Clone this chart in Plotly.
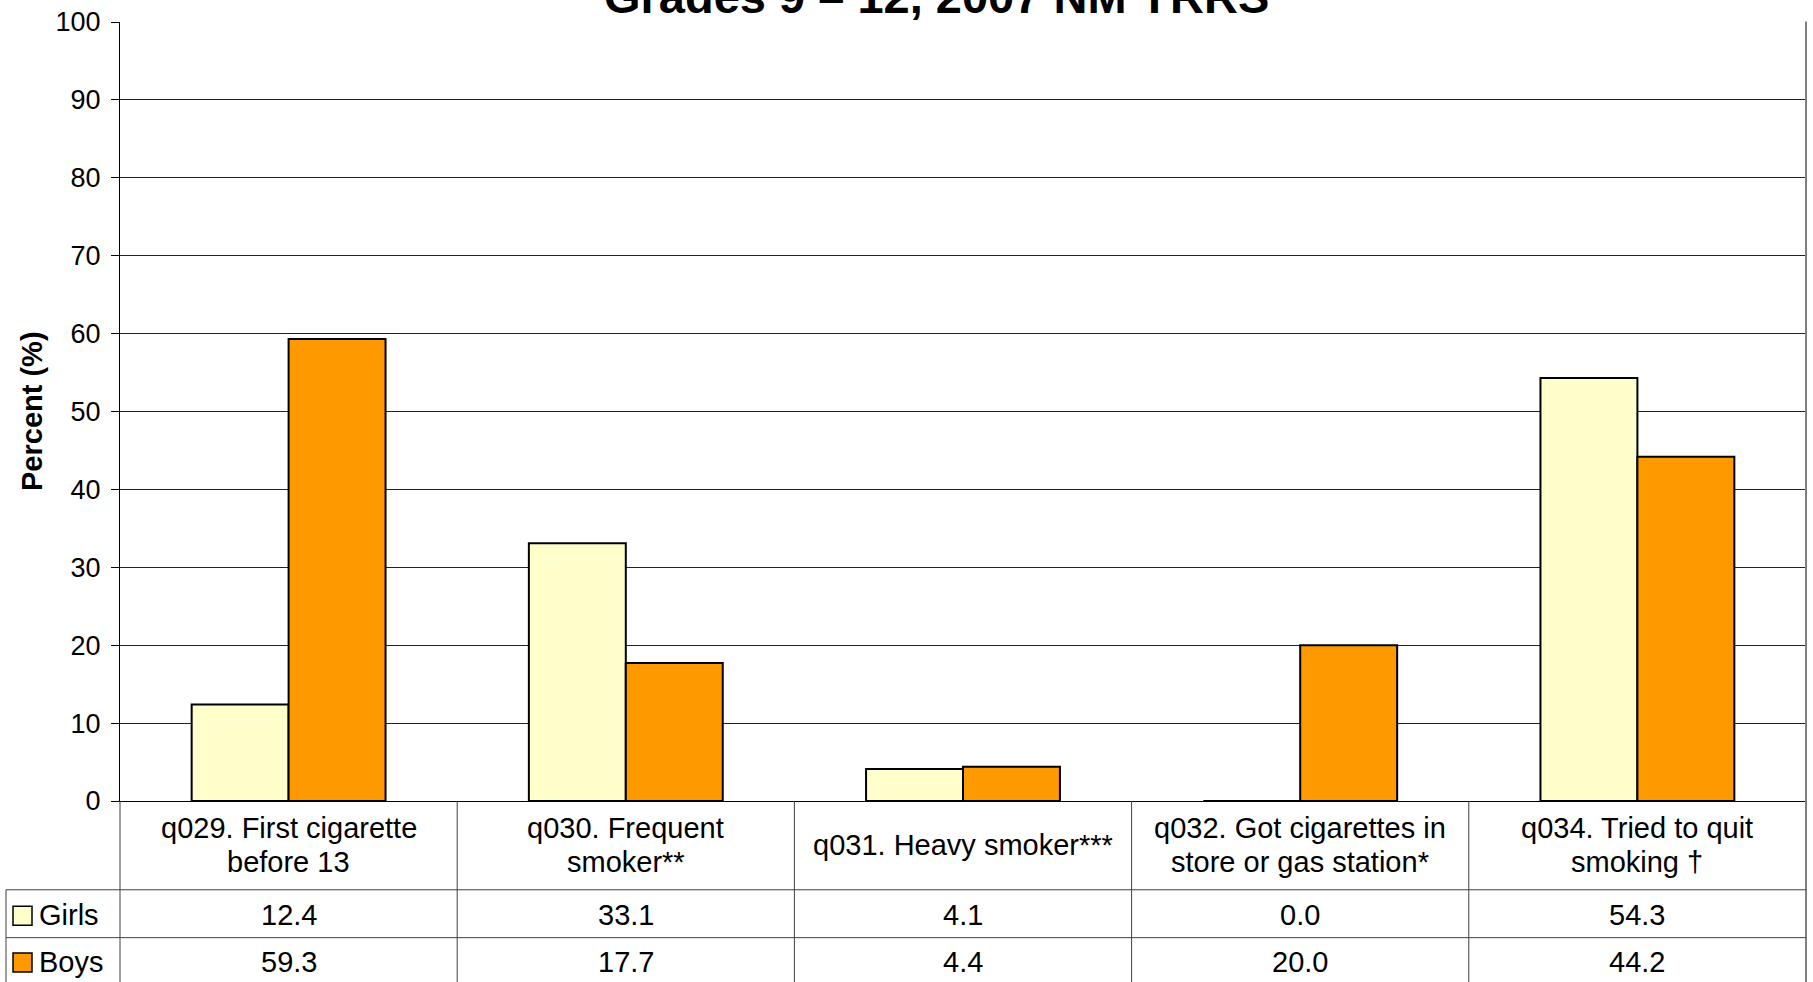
import plotly.graph_objects as go

categories = [
    "q029. First cigarette<br>before 13",
    "q030. Frequent<br>smoker**",
    "q031. Heavy smoker***",
    "q032. Got cigarettes in<br>store or gas station*",
    "q034. Tried to quit<br>smoking \u2020",
]
series_names = ["Girls", "Boys"]
girls = [12.4, 33.1, 4.1, 0.0, 54.3]
boys = [59.3, 17.7, 4.4, 20.0, 44.2]
colors = ["#FFFFCC", "#FF9900"]
title_text = "Grades 9 \u2013 12, 2007 NM YRRS"
y_title = "Percent (%)"

W, H = 1813, 982
L, R, T, B = 120, 1806, 20, 801  # plot area in pixels
FONT = "Liberation Sans, Arial, sans-serif"
TS = 29  # table font size


def px(x):
    return (x - L) / (R - L)


def py(y):
    return (B - y) / (B - T)


xs = list(range(len(categories)))
fig = go.Figure()
for name, vals, col in zip(series_names, [girls, boys], colors):
    fig.add_trace(go.Bar(
        x=xs, y=vals, name=name,
        marker=dict(color=col, line=dict(color="black", width=2)),
        showlegend=False,
    ))

fig.update_layout(
    width=W, height=H,
    margin=dict(l=L, r=W - R, t=T, b=H - B, pad=0),
    paper_bgcolor="white", plot_bgcolor="white",
    barmode="group", bargap=0.425, bargroupgap=0,
    font=dict(family=FONT, color="black", size=24),
    xaxis=dict(range=[-0.5, len(categories) - 0.5], showticklabels=False,
               showgrid=False, zeroline=False, showline=True,
               linecolor="black", linewidth=1, ticks=""),
    yaxis=dict(range=[0, 100], dtick=10, showgrid=True, gridcolor="#222222",
               gridwidth=1, zeroline=False, showline=True, linecolor="black",
               linewidth=1, ticks="outside", ticklen=8, tickcolor="black",
               tickfont=dict(size=27, family=FONT), ticklabelstandoff=5),
)

# right border (gray)
shapes = [dict(type="line", xref="paper", yref="paper", x0=px(1806), x1=px(1806),
               y0=py(19.5), y1=py(990), line=dict(color="#808080", width=2))]
# table lines
tl = dict(color="#404040", width=1)
for yy in [890, 938]:
    shapes.append(dict(type="line", xref="paper", yref="paper", x0=px(6), x1=px(1806),
                       y0=py(yy), y1=py(yy), line=tl))
shapes.append(dict(type="line", xref="paper", yref="paper", x0=px(6), x1=px(6),
                   y0=py(890), y1=py(990), line=tl))
shapes.append(dict(type="line", xref="paper", yref="paper", x0=0, x1=0,
                   y0=0, y1=py(990), line=tl))
for i in range(len(categories) - 1):
    shapes.append(dict(type="line", xref="x", yref="paper", x0=i + 0.5, x1=i + 0.5,
                       y0=0, y1=py(990), line=tl))
# legend keys
for yc, col in zip([916, 963], colors):
    shapes.append(dict(type="rect", xref="paper", yref="paper",
                       x0=px(13), x1=px(32), y0=py(yc - 9.5), y1=py(yc + 9.5),
                       fillcolor=col, line=dict(color="black", width=1.5)))
fig.update_layout(shapes=shapes)

ann = []
for i, c in enumerate(categories):
    lines = c.split("<br>")
    if len(lines) == 1:
        ys = [845]
    else:
        ys = [828, 862]
    for ln, yy in zip(lines, ys):
        ann.append(dict(x=i, y=py(yy), xref="x", yref="paper", text=ln, showarrow=False,
                        font=dict(size=TS, family=FONT), align="center",
                        xanchor="center", yanchor="middle"))
    ann.append(dict(x=i, y=py(915), xref="x", yref="paper", text=f"{girls[i]:.1f}",
                    showarrow=False, font=dict(size=TS, family=FONT),
                    xanchor="center", yanchor="middle"))
    ann.append(dict(x=i, y=py(962), xref="x", yref="paper", text=f"{boys[i]:.1f}",
                    showarrow=False, font=dict(size=TS, family=FONT),
                    xanchor="center", yanchor="middle"))
for yc, name in zip([915, 962], series_names):
    ann.append(dict(x=px(37), y=py(yc), xref="paper", yref="paper", text=name,
                    showarrow=False, font=dict(size=TS, family=FONT),
                    xanchor="left", yanchor="middle"))
ann.append(dict(x=px(32), y=py(410), xref="paper", yref="paper", text=f"<b>{y_title}</b>",
                showarrow=False, textangle=-90, font=dict(size=29, family=FONT),
                xanchor="center", yanchor="middle"))
ann.append(dict(x=px(936.5), y=py(23), xref="paper", yref="paper", text=f"<b>{title_text}</b>",
                showarrow=False, font=dict(size=47, family=FONT),
                xanchor="center", yanchor="bottom"))
fig.update_layout(annotations=ann)

fig.write_html("out.html", config={"displayModeBar": False},
               post_script="document.body.style.margin='0';document.body.style.overflow='hidden';")
